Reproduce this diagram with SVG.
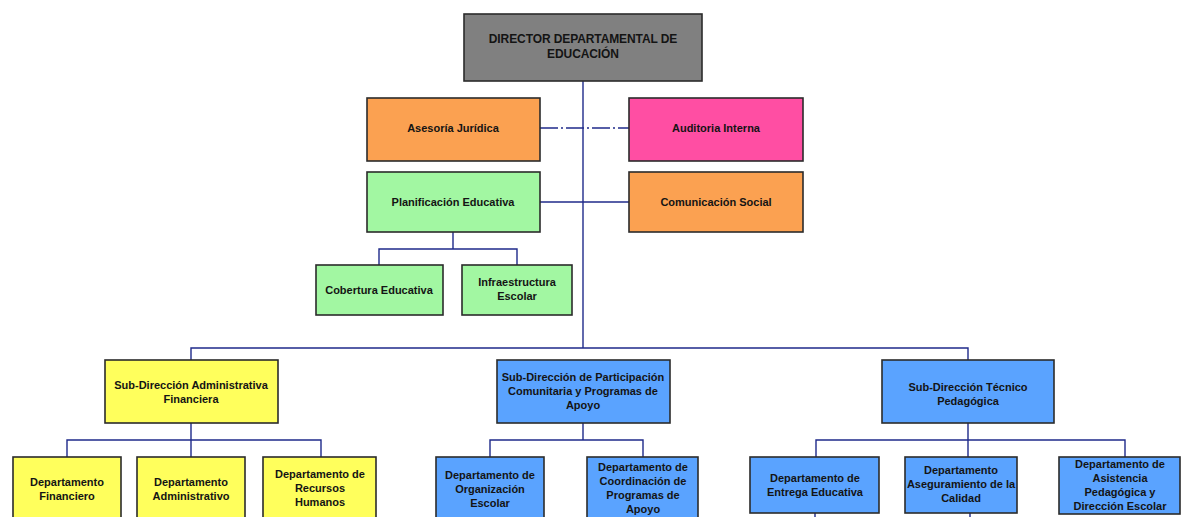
<svg xmlns="http://www.w3.org/2000/svg" width="1181" height="517" viewBox="0 0 1181 517">
  <style>
    .box { stroke: #2b2b2b; stroke-width: 1.6; }
    .gray { fill: #808080; }
    .orange { fill: #fba151; }
    .pink { fill: #ff4ea3; }
    .green { fill: #a2f7a2; }
    .yellow { fill: #ffff5c; }
    .blue { fill: #5aa3ff; }
    .lbl { font-family: "Liberation Sans", Arial, sans-serif; font-size: 11px; font-weight: bold; fill: #141414; text-anchor: middle; }
    .big { font-size: 12px; letter-spacing: -0.1px; }
    .conn { fill: none; stroke: #1f2a8a; stroke-width: 1.4; }
    .dashdot { stroke-dasharray: 18 3 2 3; }
  </style>
  <rect width="1181" height="517" fill="#ffffff"/>

  <!-- connectors -->
  <g id="connectors">
    <path class="conn" d="M583 81 V348"/>
    <path class="conn dashdot" d="M540 128 H629"/>
    <path class="conn" d="M540 202 H629"/>
    <path class="conn" d="M453 232 V249 M379 265 V249 H517 V265"/>
    <path class="conn" d="M191 360 V348 H968 V360"/>
    <path class="conn" d="M191 423 V440 M67 457 V440 H321 V457 M191 440 V457"/>
    <path class="conn" d="M583 423 V440 M490 457 V440 H643 V457"/>
    <path class="conn" d="M968 423 V440 M816 457 V440 H1125 V457 M968 440 V457"/>
    <path class="conn" d="M815 513 V517 M970 513 V517"/>
  </g>

  <g id="director">
    <rect class="box gray" x="464" y="14" width="238" height="67"/>
    <text class="lbl big" x="583" y="43">DIRECTOR DEPARTAMENTAL DE</text>
    <text class="lbl big" x="583" y="58">EDUCACIÓN</text>
  </g>

  <g id="asesoria-juridica">
    <rect class="box orange" x="367" y="98" width="173" height="63"/>
    <text class="lbl" x="453" y="132">Asesoría Jurídica</text>
  </g>

  <g id="auditoria-interna">
    <rect class="box pink" x="629" y="98" width="174" height="63"/>
    <text class="lbl" x="716" y="132">Auditoria Interna</text>
  </g>

  <g id="planificacion">
    <rect class="box green" x="367" y="172" width="173" height="60"/>
    <text class="lbl" x="453" y="206">Planificación Educativa</text>
  </g>

  <g id="comunicacion-social">
    <rect class="box orange" x="629" y="172" width="174" height="60"/>
    <text class="lbl" x="716" y="206">Comunicación Social</text>
  </g>

  <g id="cobertura">
    <rect class="box green" x="316" y="265" width="127" height="50"/>
    <text class="lbl" x="379" y="294">Cobertura Educativa</text>
  </g>

  <g id="infraestructura">
    <rect class="box green" x="462" y="265" width="110" height="50"/>
    <text class="lbl" x="517" y="286">Infraestructura</text>
    <text class="lbl" x="517" y="300">Escolar</text>
  </g>

  <g id="sub-administrativa">
    <rect class="box yellow" x="105" y="360" width="173" height="63"/>
    <text class="lbl" x="191" y="389">Sub-Dirección Administrativa</text>
    <text class="lbl" x="191" y="403">Financiera</text>
  </g>

  <g id="sub-participacion">
    <rect class="box blue" x="497" y="360" width="173" height="63"/>
    <text class="lbl" x="583" y="381">Sub-Dirección de Participación</text>
    <text class="lbl" x="583" y="395">Comunitaria y Programas de</text>
    <text class="lbl" x="583" y="409">Apoyo</text>
  </g>

  <g id="sub-tecnico">
    <rect class="box blue" x="882" y="360" width="172" height="63"/>
    <text class="lbl" x="968" y="391">Sub-Dirección Técnico</text>
    <text class="lbl" x="968" y="405">Pedagógica</text>
  </g>

  <g id="dep-financiero">
    <rect class="box yellow" x="13" y="457" width="108" height="70"/>
    <text class="lbl" x="67" y="486">Departamento</text>
    <text class="lbl" x="67" y="500">Financiero</text>
  </g>

  <g id="dep-administrativo">
    <rect class="box yellow" x="137" y="457" width="108" height="70"/>
    <text class="lbl" x="191" y="486">Departamento</text>
    <text class="lbl" x="191" y="500">Administrativo</text>
  </g>

  <g id="dep-rrhh">
    <rect class="box yellow" x="263" y="457" width="113" height="70"/>
    <text class="lbl" x="320" y="478">Departamento de</text>
    <text class="lbl" x="320" y="492">Recursos</text>
    <text class="lbl" x="320" y="506">Humanos</text>
  </g>

  <g id="dep-organizacion">
    <rect class="box blue" x="436" y="457" width="108" height="70"/>
    <text class="lbl" x="490" y="479">Departamento de</text>
    <text class="lbl" x="490" y="493">Organización</text>
    <text class="lbl" x="490" y="507">Escolar</text>
  </g>

  <g id="dep-coordinacion">
    <rect class="box blue" x="587" y="457" width="111" height="70"/>
    <text class="lbl" x="643" y="471">Departamento de</text>
    <text class="lbl" x="643" y="485">Coordinación de</text>
    <text class="lbl" x="643" y="499">Programas de</text>
    <text class="lbl" x="643" y="513">Apoyo</text>
  </g>

  <g id="dep-entrega">
    <rect class="box blue" x="750" y="457" width="129" height="56"/>
    <text class="lbl" x="815" y="482">Departamento de</text>
    <text class="lbl" x="815" y="496">Entrega Educativa</text>
  </g>

  <g id="dep-calidad">
    <rect class="box blue" x="905" y="457" width="112" height="56"/>
    <text class="lbl" x="961" y="474">Departamento</text>
    <text class="lbl" x="961" y="488">Aseguramiento  de la</text>
    <text class="lbl" x="961" y="502">Calidad</text>
  </g>

  <g id="dep-asistencia">
    <rect class="box blue" x="1059" y="457" width="121" height="57"/>
    <text class="lbl" x="1120" y="468">Departamento de</text>
    <text class="lbl" x="1120" y="482">Asistencia</text>
    <text class="lbl" x="1120" y="496">Pedagógica y</text>
    <text class="lbl" x="1120" y="510">Dirección Escolar</text>
  </g>
</svg>
